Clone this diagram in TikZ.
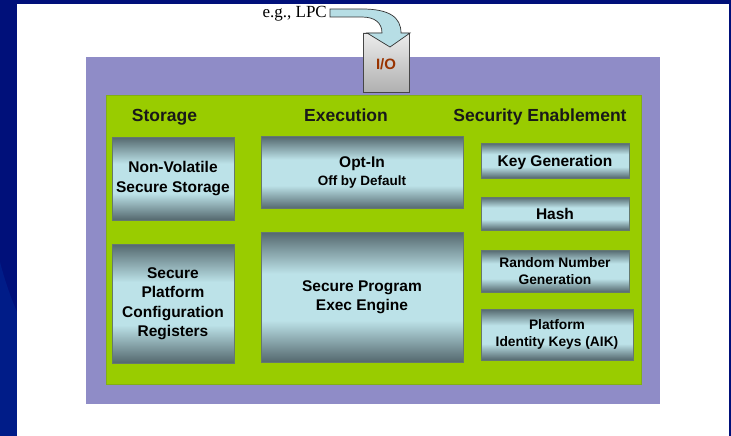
\documentclass[tikz,border=0pt]{standalone}
\usepackage{fontspec}
\setmainfont{Liberation Serif}
\newfontfamily\arialf{Liberation Sans}
\definecolor{slideblue}{RGB}{0,16,122}
\definecolor{slideblueL}{RGB}{0,28,136}
\definecolor{tpmpurple}{RGB}{143,140,199}
\definecolor{tpmgreen}{RGB}{153,204,0}
\definecolor{greenedge}{RGB}{130,175,20}
\definecolor{boxdark}{RGB}{84,104,110}
\definecolor{boxlight}{RGB}{188,226,232}
\definecolor{boxedge}{RGB}{100,120,110}
\definecolor{iored}{RGB}{153,51,0}
\definecolor{arrowfill}{RGB}{183,222,229}
\definecolor{headtext}{RGB}{25,25,25}
\pgfdeclareverticalshading{tealbar}{100bp}{color(0bp)=(boxdark); color(25bp)=(boxdark); color(41bp)=(boxlight); color(59bp)=(boxlight); color(75bp)=(boxdark); color(100bp)=(boxdark)}
\tikzset{
  modbox/.style={draw=boxedge, line width=0.4pt, shading=tealbar, inner sep=0pt, align=center,
    font=\arialf\bfseries\fontsize{15.5}{19.5}\selectfont, text=black},
  smallbox/.style={modbox, font=\arialf\bfseries\fontsize{13.8}{17.5}\selectfont},
  colhead/.style={inner sep=0pt, anchor=base, font=\arialf\bfseries\fontsize{17.5}{20}\selectfont, text=headtext},
}
\begin{document}
\begin{tikzpicture}[x=1pt,y=-1pt]
\useasboundingbox (0,0) rectangle (731,436);
% slide background
\fill[slideblue] (0,0) rectangle (731,436);
\fill[slideblueL] (0,262) .. controls (6,285) and (12,300) .. (17,312) -- (17,436) -- (0,436) -- cycle;
\fill[white] (17,4) rectangle (729,436);
% TPM frame
\node[fill=tpmpurple, minimum width=574pt, minimum height=347pt, inner sep=0pt] (tpm) at (373,230.5) {};
\node[fill=tpmgreen, draw=greenedge, line width=0.4pt, minimum width=535pt, minimum height=289pt, inner sep=0pt] (core) at (373.5,239.5) {};
% column headings
\node[colhead] (hstore) at (164.5,121.5) {Storage};
\node[colhead] (hexec) at (346,121.5) {Execution};
\node[colhead] (hsec) at (540,121.5) {Security Enablement};
% storage column
\node[modbox, minimum width=122pt, minimum height=83pt] (nv) at (173,178.5) {Non-Volatile\\Secure Storage};
\node[modbox, minimum width=122pt, minimum height=119pt] (pcr) at (173,303.5) {Secure\\Platform\\Configuration\\Registers};
% execution column
\node[modbox, minimum width=202pt, minimum height=72pt] (optin) at (362,172.5) {Opt-In\\[-2pt]{\fontsize{13.5}{16}\selectfont Off by Default}};
\node[modbox, minimum width=202pt, minimum height=130pt] (exec) at (362,297) {Secure Program\\Exec Engine};
% security enablement column
\node[modbox, minimum width=148pt, minimum height=35pt, text depth=0pt] (keygen) at (555,160.5) {Key Generation};
\node[modbox, minimum width=148pt, minimum height=33pt] (hash) at (555,213.5) {Hash};
\node[smallbox, minimum width=148pt, minimum height=42pt] (rng) at (555,271) {Random Number\\Generation};
\node[smallbox, minimum width=152pt, minimum height=51pt] (aik) at (557,334.5) {Platform\\Identity Keys (AIK)};
% I/O port
\node[draw=gray!55!black, line width=0.5pt, top color=gray!15, bottom color=gray!62, minimum width=46pt, minimum height=59pt, inner sep=0pt] (io) at (386,62.5) {};
\node[inner sep=0pt, font=\arialf\bfseries\fontsize{15}{17}\selectfont, text=iored] (iotext) at ([yshift=-1.5pt]io.center) {I/O};
% LPC label and bent arrow
\node[inner sep=0pt, font=\fontsize{17}{19}\selectfont, anchor=base east] (lpc) at (327,18) {e.g., LPC};
\draw[fill=arrowfill, draw=black!80, line width=0.7pt, line join=miter]
  (330,9) -- (362,9) .. controls (389,9) and (401,17) .. (401,33)
  -- (410,33) -- (390,47) -- (367,33) -- (382,33)
  .. controls (382,23) and (375,17) .. (362,17) -- (330,17) -- cycle;
\end{tikzpicture}
\end{document}
